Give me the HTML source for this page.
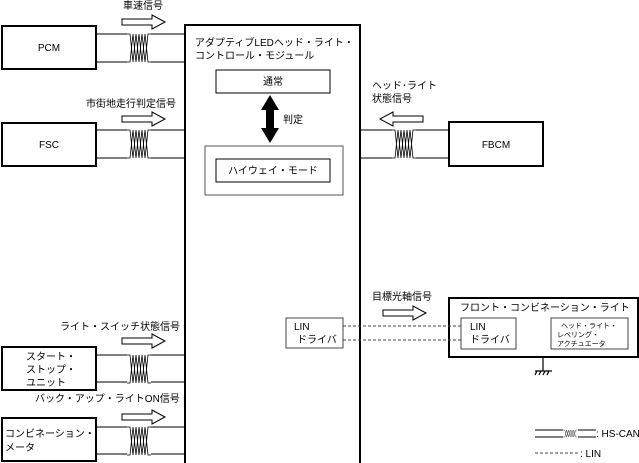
<!DOCTYPE html>
<html><head><meta charset="utf-8"><style>
html,body{margin:0;padding:0;background:#fff}
svg{display:block}
text{font-family:"Liberation Sans","Noto Sans CJK JP",sans-serif;font-size:10px;fill:#000}
</style></head><body>
<svg width="639" height="463" viewBox="0 0 639 463" xmlns="http://www.w3.org/2000/svg">
<defs>
<g id="tw" fill="none" stroke="#000" stroke-width="0.8">
<path d="M0,0 L3,0 L6,28 L9,0 L12,28 L15,0 L18,28 L21,0 L24,0"/>
<path d="M0,28 L3,28 L6,0 L9,28 L12,0 L15,28 L18,0 L21,28 L24,28"/>
</g>
<path id="ar" d="M0,4 L30,4 L30,0 L43,7 L30,14 L30,10 L0,10 Z" fill="#fff" stroke="#000" stroke-width="1"/>
</defs>
<g fill="none" stroke="#000">
<!-- main box -->
<rect x="185" y="25" width="175" height="440" stroke-width="2"/>
<!-- PCM -->
<rect x="2" y="26" width="94" height="43" stroke-width="2"/>
<path d="M96,34H127M151,34H185M96,62H127M151,62H185" stroke-width="1"/>
<!-- FSC -->
<rect x="2" y="123" width="94" height="43" stroke-width="2"/>
<path d="M96,130H127M151,130H185M96,158H127M151,158H185" stroke-width="1"/>
<!-- start stop -->
<rect x="2" y="347" width="94" height="43" stroke-width="2"/>
<path d="M96,355H127M151,355H185M96,382H127M151,382H185" stroke-width="1"/>
<!-- combination meter -->
<rect x="2" y="418" width="94" height="43" stroke-width="2"/>
<path d="M96,427H127M151,427H185M96,454H127M151,454H185" stroke-width="1"/>
<!-- FBCM -->
<rect x="449" y="122" width="94" height="44" stroke-width="2"/>
<path d="M360,130H392M416,130H449M360,158H392M416,158H449" stroke-width="1"/>
<!-- inner boxes -->
<rect x="216" y="70" width="114" height="23" stroke-width="1"/>
<rect x="205" y="146" width="138" height="49" stroke-width="1" stroke="#555"/>
<rect x="216" y="159" width="114" height="23" stroke-width="1"/>
<rect x="286" y="318" width="57" height="30" stroke-width="1" stroke="#444"/>
<!-- front combo -->
<rect x="449" y="298" width="189" height="59" stroke-width="2"/>
<rect x="461" y="318" width="55" height="31" stroke-width="1" stroke="#444"/>
<rect x="551" y="318" width="77" height="31" stroke-width="1" stroke="#444"/>
<path d="M343,326H461M343,340H461" stroke-width="1" stroke-dasharray="3,2" stroke="#444"/>
<path d="M543,357V371M535,371H552M537,371L535,375M541,371L539,375M545,371L543,375M549,371L547,375" stroke-width="1.2"/>
<!-- legend -->
<path d="M535,430H563M578,430H596M535,437H563M578,437H596" stroke-width="1"/>
<path d="M535,453H580" stroke-width="1" stroke-dasharray="3,2" stroke="#444"/>
</g>
<use href="#tw" x="127" y="34"/>
<use href="#tw" x="127" y="130"/>
<use href="#tw" x="127" y="355" transform="translate(0,0)"/>
<use href="#tw" x="127" y="427"/>
<use href="#tw" x="392" y="130"/>
<g transform="translate(563,430) scale(0.6,0.25)"><use href="#tw"/></g>
<!-- arrows -->
<use href="#ar" x="122" y="15"/>
<use href="#ar" x="122" y="112"/>
<use href="#ar" x="122" y="334"/>
<use href="#ar" x="122" y="410"/>
<use href="#ar" x="383" y="306"/>
<g transform="translate(423,112) scale(-1,1)"><use href="#ar"/></g>
<!-- double arrow -->
<path d="M270,95 L279,110 L274,110 L274,128 L279,128 L270,143 L261,128 L266,128 L266,110 L261,110 Z" fill="#000"/>
<!-- texts -->
<text x="123" y="9">車速信号</text>
<text x="86" y="107">市街地走行判定信号</text>
<text x="60" y="330">ライト・スイッチ状態信号</text>
<text x="35" y="402">バック・アップ・ライトON信号</text>
<text x="49" y="51" text-anchor="middle">PCM</text>
<text x="49" y="148" text-anchor="middle">FSC</text>
<text x="496" y="148" text-anchor="middle">FBCM</text>
<text x="26" y="360">スタート・</text>
<text x="26" y="373">ストップ・</text>
<text x="26" y="386">ユニット</text>
<text x="5" y="437">コンビネーション・</text>
<text x="5" y="451">メータ</text>
<text x="195" y="46">アダプティブLEDヘッド・ライト・</text>
<text x="195" y="59">コントロール・モジュール</text>
<text x="273" y="85" text-anchor="middle">通常</text>
<text x="283" y="123">判定</text>
<text x="273" y="174" text-anchor="middle">ハイウェイ・モード</text>
<text x="372" y="89">ヘッド･ライト</text>
<text x="372" y="102">状態信号</text>
<text x="372" y="300">目標光軸信号</text>
<text x="460" y="311">フロント・コンビネーション・ライト</text>
<text x="470" y="330">LIN</text>
<text x="470" y="343">ドライバ</text>
<text x="294" y="330">LIN</text>
<text x="297" y="343">ドライバ</text>
<text x="561" y="328" style="font-size:7px">ヘッド・ライト・</text>
<text x="557" y="337" style="font-size:7px">レベリング・</text>
<text x="557" y="346" style="font-size:7px">アクチュエータ</text>
<text x="596" y="437">: HS-CAN</text>
<text x="580" y="457">: LIN</text>
</svg>
</body></html>
